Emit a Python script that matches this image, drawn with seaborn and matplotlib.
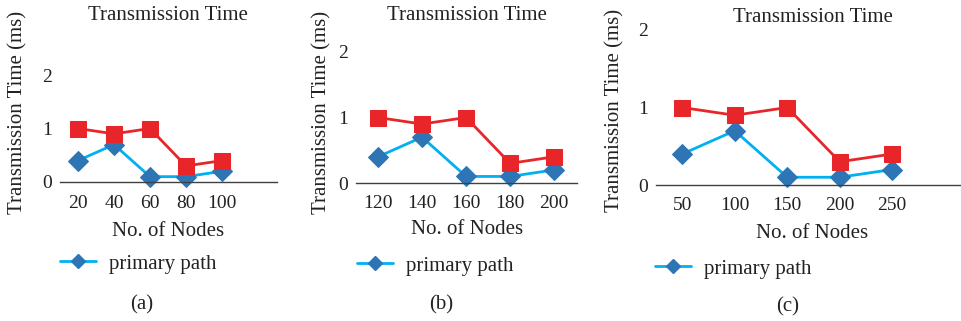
import matplotlib
matplotlib.use('Agg')
import matplotlib.pyplot as plt
from matplotlib.lines import Line2D
import seaborn as sns

# data (same curves in all three panels, only the node counts differ)
nodes_a = ['20', '40', '60', '80', '100']
nodes_b = ['120', '140', '160', '180', '200']
nodes_c = ['50', '100', '150', '200', '250']
primary_path = [0.4, 0.7, 0.1, 0.1, 0.2]
other_path = [1.0, 0.9, 1.0, 0.3, 0.4]
y_ticks = [0, 1, 2]

sns.set_style('white')
plt.rcParams['font.family'] = ['Liberation Serif', 'DejaVu Serif']

RED = '#E8262A'
CYAN = '#00B0F0'
BLUE = '#2E75B6'

W, H = 961, 321
fig = plt.figure(figsize=(W / 100, H / 100), dpi=100)


def px(x, y):
    return x / W, 1 - y / H


# panel layout in pixels: left, right, zero-line y, px per unit, xmax, ymax
panels = [
    dict(nodes=nodes_a, x0=60, x1=277, y0=182, unit=53.5, xmax=5.53, ymax=2.3,
         title=(168, 15), ylab=(18, 112), xlab=(168, 231), leg=(60, 264), cap=(142, 305, '(a)')),
    dict(nodes=nodes_b, x0=356, x1=577, y0=183, unit=65.5, xmax=4.52, ymax=2.3,
         title=(467, 15), ylab=(322, 112), xlab=(467, 230), leg=(357, 266), cap=(441, 305, '(b)')),
    dict(nodes=nodes_c, x0=656, x1=961, y0=185, unit=77.5, xmax=5.31, ymax=2.2,
         title=(813, 18), ylab=(615, 110), xlab=(812, 233), leg=(655, 269), cap=(788, 307, '(c)')),
]

for p in panels:
    height = p['unit'] * p['ymax']
    left, bottom = p['x0'] / W, (H - p['y0']) / H
    ax = fig.add_axes([left, bottom, (p['x1'] - p['x0']) / W, height / H])

    sns.lineplot(x=p['nodes'], y=primary_path, ax=ax, color=CYAN, linewidth=2.0,
                 marker='D', markersize=10, markerfacecolor=BLUE,
                 markeredgecolor=BLUE, sort=False, clip_on=False)
    sns.lineplot(x=p['nodes'], y=other_path, ax=ax, color=RED, linewidth=2.0,
                 marker='s', markersize=11, markerfacecolor=RED,
                 markeredgecolor=RED, sort=False, clip_on=False)

    ax.set_xlim(-0.5, p['xmax'])
    ax.set_ylim(0, p['ymax'])
    ax.set_yticks(y_ticks)
    ax.set_yticklabels([str(t) for t in y_ticks])
    ax.tick_params(axis='both', length=0, labelsize=14, colors='#222222')
    ax.tick_params(axis='x', pad=9)
    ax.tick_params(axis='y', pad=6)
    for s in ['top', 'right', 'left']:
        ax.spines[s].set_visible(False)
    ax.spines['bottom'].set_color('#404040')
    ax.spines['bottom'].set_linewidth(1.0)
    ax.set_xlabel('')
    ax.set_ylabel('')
    ax.patch.set_alpha(0)

    fig.text(*px(*p['title']), 'Transmission Time', ha='center', va='center',
             fontsize=15, color='#222222')
    fig.text(*px(*p['ylab']), 'Transmission Time (ms)', ha='center', va='center',
             rotation=90, fontsize=15, color='#222222')
    fig.text(*px(*p['xlab']), 'No. of Nodes', ha='center', va='center',
             fontsize=15, color='#222222')
    cx, cy, ctext = p['cap']
    fig.text(*px(cx, cy), ctext, ha='center', va='center', fontsize=15,
             color='#222222')

    handle = Line2D([], [], color=CYAN, linewidth=2.0, marker='D', markersize=7,
                    markerfacecolor=BLUE, markeredgecolor=BLUE)
    ax.legend(handles=[handle], labels=['primary path'], loc='center left',
              bbox_to_anchor=px(*p['leg']), bbox_transform=fig.transFigure,
              frameon=False, fontsize=15, handlelength=1.75, handletextpad=0.6,
              borderpad=0, borderaxespad=0, labelcolor='#222222')

fig.savefig('out.png', dpi=100)
